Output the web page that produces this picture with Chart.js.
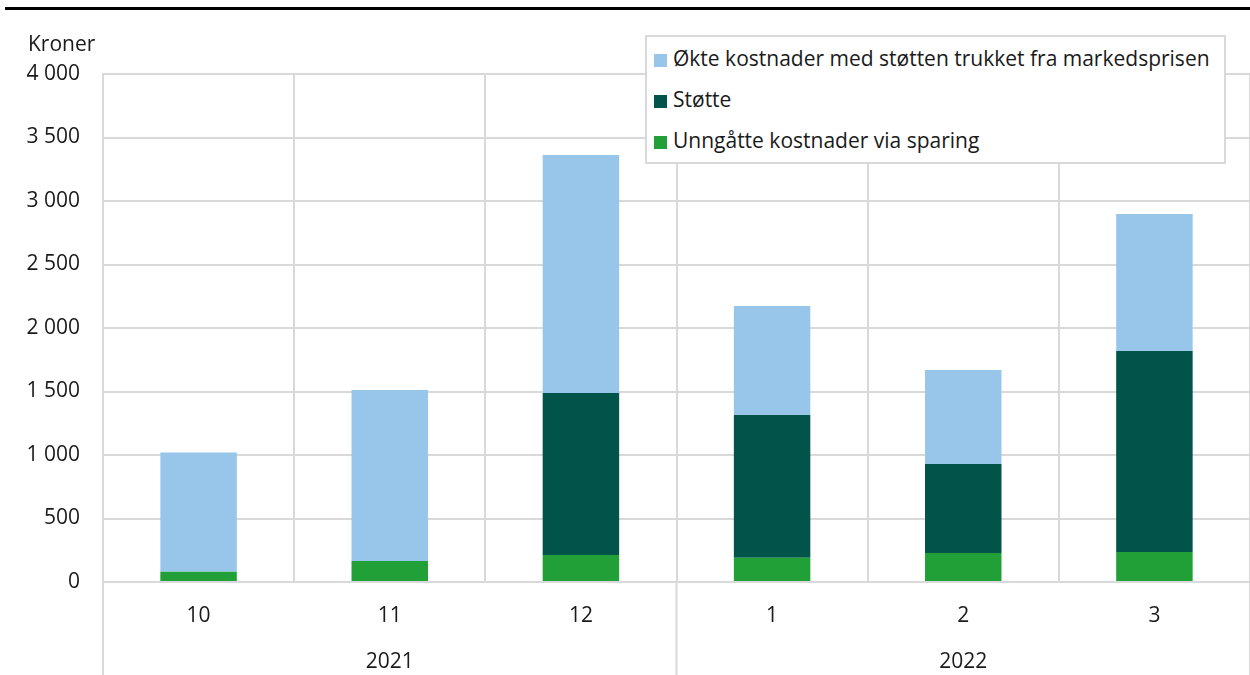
<!DOCTYPE html>
<html>
<head>
<meta charset="utf-8">
<script src="https://cdn.jsdelivr.net/npm/chart.js@4"></script>
<style>
  html, body { margin: 0; padding: 0; background: #fff; overflow: hidden; }
  #wrap { position: relative; width: 1250px; height: 675px; }
  #legend {
    position: absolute; left: 645px; top: 35px; width: 577px; height: 124px;
    border: 2px solid #d9d9d9; background: #fff;
    font-family: "Open Sans", sans-serif; font-size: 21px; color: #1a1a1a;
    padding-top: 1px;
  }
  .item { height: 41px; line-height: 41px; white-space: nowrap; padding-left: 7px; }
  .box { display: inline-block; width: 13px; height: 13px; margin-right: 6px; vertical-align: -1px; }
</style>
</head>
<body>
<div id="wrap">
  <canvas id="chart" width="1250" height="675"></canvas>
  <div id="legend"></div>
</div>
<script>
/* Data */
const months = ['10', '11', '12', '1', '2', '3'];
const years = ['2021', '2022'];
const unngatte = [80, 165, 213, 190, 228, 236];
const stotte = [0, 0, 1275, 1125, 701, 1583];
const okte = [940, 1347, 1874, 858, 740, 1079];

const series_labels = [
  'Unngåtte kostnader via sparing',
  'Støtte',
  'Økte kostnader med støtten trukket fra markedsprisen'
];
const series_colors = ['#21a038', '#00544a', '#98c6ea'];

const text_color = '#1a1a1a';
const grid_color = '#d9d9d9';
const font_family = '"Open Sans", sans-serif';
const font_size = 21;

const fmtThousands = (v) => String(v).replace(/\B(?=(\d{3})+(?!\d))/g, ' ');

/* extra lines, y title, top rule */
const extras = {
  id: 'extras',
  afterDraw(chart) {
    const ctx = chart.ctx;
    const x = chart.scales.x;
    const area = chart.chartArea;
    ctx.save();
    // top rule
    ctx.fillStyle = '#000';
    ctx.fillRect(5, 7, 1245, 3);
    // y axis title
    ctx.fillStyle = text_color;
    ctx.font = font_size + 'px ' + font_family;
    ctx.textBaseline = 'middle';
    ctx.textAlign = 'left';
    ctx.fillText('Kroner', 28, 45);
    // separators below the axis
    ctx.strokeStyle = grid_color;
    ctx.lineWidth = 2;
    const split = (x.getPixelForValue(2) + x.getPixelForValue(3)) / 2;
    [x.left, split, x.right].forEach(px => {
      ctx.beginPath();
      ctx.moveTo(px, area.bottom);
      ctx.lineTo(px, chart.height);
      ctx.stroke();
    });
    ctx.restore();
  }
};

const datasets = [unngatte, stotte, okte].map((d, i) => ({
  label: series_labels[i],
  data: d,
  backgroundColor: series_colors[i],
  borderWidth: 0,
  barPercentage: 0.4,
  categoryPercentage: 1
}));

const chart = new Chart(document.getElementById('chart'), {
  type: 'bar',
  data: { labels: months, datasets: datasets },
  plugins: [extras],
  options: {
    responsive: false,
    animation: false,
    layout: { padding: { top: 74, right: 0, bottom: 0, left: 0 } },
    plugins: {
      legend: { display: false },
      tooltip: { enabled: false }
    },
    scales: {
      x: {
        stacked: true,
        afterFit: (scale) => { scale.height = 62; },
        grid: { color: grid_color, lineWidth: 2, drawTicks: false },
        border: { display: false },
        ticks: { color: text_color, font: { family: font_family, size: font_size }, padding: 21 }
      },
      x2: {
        type: 'category',
        labels: years,
        position: 'bottom',
        offset: true,
        afterFit: (scale) => { scale.height = 31; },
        grid: { display: false, drawTicks: false },
        border: { display: false },
        ticks: { color: text_color, font: { family: font_family, size: font_size }, padding: 5.5 }
      },
      y: {
        stacked: true,
        min: 0,
        max: 4000,
        afterFit: (scale) => { scale.width = 103; },
        grid: { color: grid_color, lineWidth: 2, drawTicks: false },
        border: { color: grid_color, width: 2 },
        ticks: {
          stepSize: 500,
          color: text_color,
          padding: 23,
          font: { family: font_family, size: font_size },
          callback: (v) => fmtThousands(v)
        }
      }
    }
  }
});

/* Legend (reverse stack order) */
const legend_el = document.getElementById('legend');
chart.data.datasets.slice().reverse().forEach(ds => {
  const row = document.createElement('div');
  row.className = 'item';
  const box = document.createElement('span');
  box.className = 'box';
  box.style.background = ds.backgroundColor;
  row.appendChild(box);
  row.appendChild(document.createTextNode(ds.label));
  legend_el.appendChild(row);
});
</script>
</body>
</html>
